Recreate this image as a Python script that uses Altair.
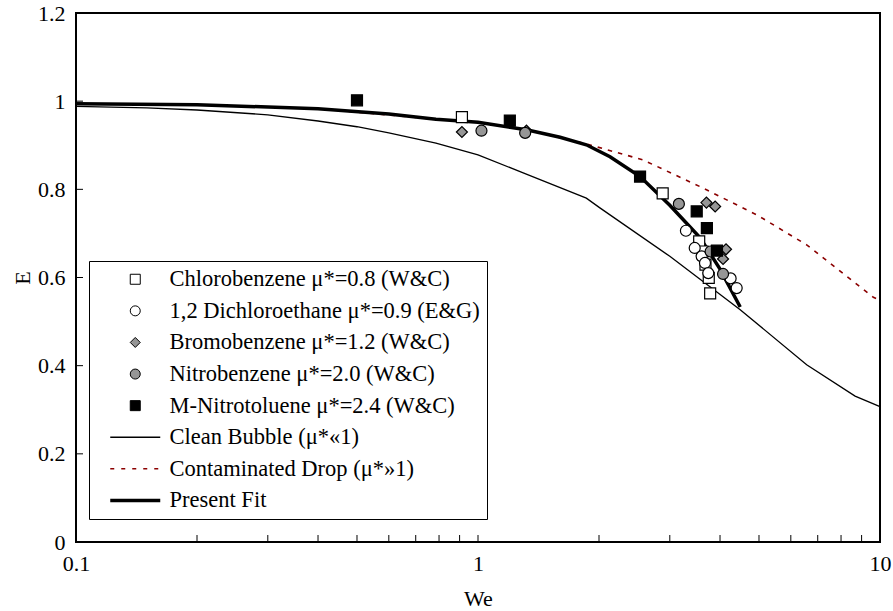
import altair as alt
import pandas as pd

# ---------------- data ----------------
series_names = [
    "Chlorobenzene μ*=0.8 (W&C)",
    "1,2 Dichloroethane μ*=0.9 (E&G)",
    "Bromobenzene μ*=1.2 (W&C)",
    "Nitrobenzene μ*=2.0 (W&C)",
    "M-Nitrotoluene μ*=2.4 (W&C)",
    "Clean Bubble (μ*«1)",
    "Contaminated Drop (μ*»1)",
    "Present Fit",
]

chloro_we = [0.912, 2.88, 3.55, 3.62, 3.68, 3.75, 3.78]
chloro_e = [0.964, 0.791, 0.682, 0.659, 0.629, 0.599, 0.564]

dichloro_we = [3.29, 3.46, 3.60, 3.67, 3.74, 4.25, 4.40]
dichloro_e = [0.706, 0.667, 0.648, 0.633, 0.610, 0.598, 0.576]

bromo_we = [0.912, 1.32, 3.70, 3.89, 4.14, 4.07]
bromo_e = [0.930, 0.933, 0.770, 0.761, 0.664, 0.642]

nitro_we = [1.02, 1.31, 3.16, 3.79, 4.07]
nitro_e = [0.933, 0.928, 0.767, 0.659, 0.608]

mnt_we = [0.50, 1.20, 2.53, 3.50, 3.71, 3.93]
mnt_e = [1.002, 0.956, 0.829, 0.750, 0.712, 0.661]

clean_we = [0.1, 0.15, 0.2, 0.3, 0.4, 0.5, 0.6, 0.786, 1.0, 1.3, 1.86, 2.01, 3.0, 4.49, 6.57, 8.67, 10]
clean_e = [0.988, 0.985, 0.980, 0.969, 0.955, 0.942, 0.928, 0.905, 0.878, 0.837, 0.780, 0.758, 0.648,
           0.527, 0.402, 0.331, 0.307]

contam_we = [0.1, 0.2, 0.4, 0.786, 1.0, 1.32, 1.86, 2.57, 3.57, 4.94, 6.57, 9.63, 10]
contam_e = [0.994, 0.992, 0.983, 0.959, 0.952, 0.935, 0.903, 0.867, 0.806, 0.742, 0.674, 0.555, 0.548]

fit_we = [0.1, 0.2, 0.4, 0.6, 0.786, 1.0, 1.32, 1.6, 1.86, 2.13, 2.53, 3.0, 3.57, 4.0, 4.49]
fit_e = [0.994, 0.992, 0.983, 0.971, 0.959, 0.952, 0.935, 0.918, 0.901, 0.874, 0.829, 0.764, 0.690, 0.619, 0.533]

x_tick_labels = [0.1, 1, 10]
x_minor_ticks = [0.2, 0.3, 0.4, 0.5, 0.6, 0.7, 0.8, 0.9, 1, 2, 3, 4, 5, 6, 7, 8, 9]
y_tick_labels = [0, 0.2, 0.4, 0.6, 0.8, 1, 1.2]
y_inner_ticks = [0.2, 0.4, 0.6, 0.8, 1]

# ---------------- tables ----------------
pts = []
for name, xs, ys in [
    (series_names[0], chloro_we, chloro_e),
    (series_names[1], dichloro_we, dichloro_e),
    (series_names[2], bromo_we, bromo_e),
    (series_names[3], nitro_we, nitro_e),
    (series_names[4], mnt_we, mnt_e),
]:
    for a, b in zip(xs, ys):
        pts.append({"We": a, "E": b, "series": name})
df_pts = pd.DataFrame(pts)

df_clean = pd.DataFrame({"We": clean_we, "E": clean_e})
df_contam = pd.DataFrame({"We": contam_we, "E": contam_e})
df_fit = pd.DataFrame({"We": fit_we, "E": fit_e})
df_xt = pd.DataFrame({"We": x_minor_ticks})
df_yt = pd.DataFrame({"E": y_inner_ticks})

W, H = 804, 529
FONT = "Liberation Serif"
FS = 22

xscale = alt.Scale(type="log", domain=[0.1, 10], nice=False)
yscale = alt.Scale(domain=[0, 1.2], nice=False, zero=False)

xaxis = alt.Axis(values=x_tick_labels, format="~g", ticks=False, domain=False,
                 grid=False, labelFlush=False, labelFont=FONT, labelFontSize=FS,
                 labelColor="black", labelPadding=11, title="We", titleFont=FONT,
                 titleFontSize=FS, titleFontWeight="normal", titleColor="black",
                 titlePadding=14)
yaxis = alt.Axis(values=y_tick_labels, format="~g", ticks=False, domain=False,
                 grid=False, labelFlush=False, labelFont=FONT, labelFontSize=FS,
                 labelColor="black", labelPadding=11, title="E", titleFont=FONT,
                 titleFontSize=FS, titleFontWeight="normal", titleColor="black",
                 titlePadding=3)

# legend symbol shapes (lines drawn as thin filled bars)
sq = "M-1,-1H1V1H-1Z"
dia = "M-1,0L0,-1L1,0L0,1Z"
thin = "M-5,-0.13H5V0.13H-5Z"
dots = ("M-5,-0.15H-4.2V0.15H-5Z M-2.8,-0.15H-2V0.15H-2.8Z M-0.6,-0.15H0.2V0.15H-0.6Z "
        "M1.6,-0.15H2.4V0.15H1.6Z M3.8,-0.15H4.6V0.15H3.8Z")
thick = "M-5,-0.35H5V0.35H-5Z"

shape_range = [sq, "circle", dia, "circle", sq, thin, dots, thick]
fill_range = ["white", "white", "#969696", "#969696", "black", "black", "#8B0000", "black"]
stroke_range = ["black"] * 5 + ["transparent"] * 3

legend = alt.Legend(title=None, orient="none", legendX=13, legendY=248,
                    strokeColor="black", fillColor="white", padding=7,
                    symbolSize=100, symbolStrokeWidth=1, symbolOffset=28,
                    labelOffset=23, labelFont=FONT, labelFontSize=22.5,
                    labelColor="black", labelLimit=700, rowPadding=8.6)

x_enc = alt.X("We:Q", scale=xscale, axis=xaxis)
y_enc = alt.Y("E:Q", scale=yscale, axis=yaxis)

clean_line = alt.Chart(df_clean).mark_line(color="black", strokeWidth=1.3).encode(x=x_enc, y=y_enc)
contam_line = alt.Chart(df_contam).mark_line(color="#8B0000", strokeWidth=1.6,
                                              strokeDash=[4.5, 6]).encode(x=x_enc, y=y_enc)
fit_line = alt.Chart(df_fit).mark_line(color="black", strokeWidth=3.5).encode(x=x_enc, y=y_enc)

points = alt.Chart(df_pts).mark_point(filled=True, opacity=1, strokeWidth=1.2, size=121).encode(
    x=x_enc,
    y=y_enc,
    shape=alt.Shape("series:N", scale=alt.Scale(domain=series_names, range=shape_range), legend=legend),
    fill=alt.Fill("series:N", scale=alt.Scale(domain=series_names, range=fill_range), legend=legend),
    stroke=alt.Stroke("series:N", scale=alt.Scale(domain=series_names, range=stroke_range), legend=legend),
    order=alt.Order("idx:Q"),
).transform_window(idx="row_number()")

xticks = alt.Chart(df_xt).mark_rule(color="black", strokeWidth=1).encode(
    x=x_enc, y=alt.value(H), y2=alt.value(H - 7))
yticks = alt.Chart(df_yt).mark_rule(color="black", strokeWidth=1).encode(
    y=y_enc, x=alt.value(0), x2=alt.value(7))

chart = alt.layer(clean_line, contam_line, fit_line, xticks, yticks, points).properties(
    width=W, height=H,
    autosize=alt.AutoSizeParams(type="none"),
    padding={"left": 76, "top": 13, "right": 13, "bottom": 69},
    background="white",
).configure_view(stroke="black", strokeWidth=2)

chart.save("out.html", embed_options={"renderer": "svg", "actions": False})
